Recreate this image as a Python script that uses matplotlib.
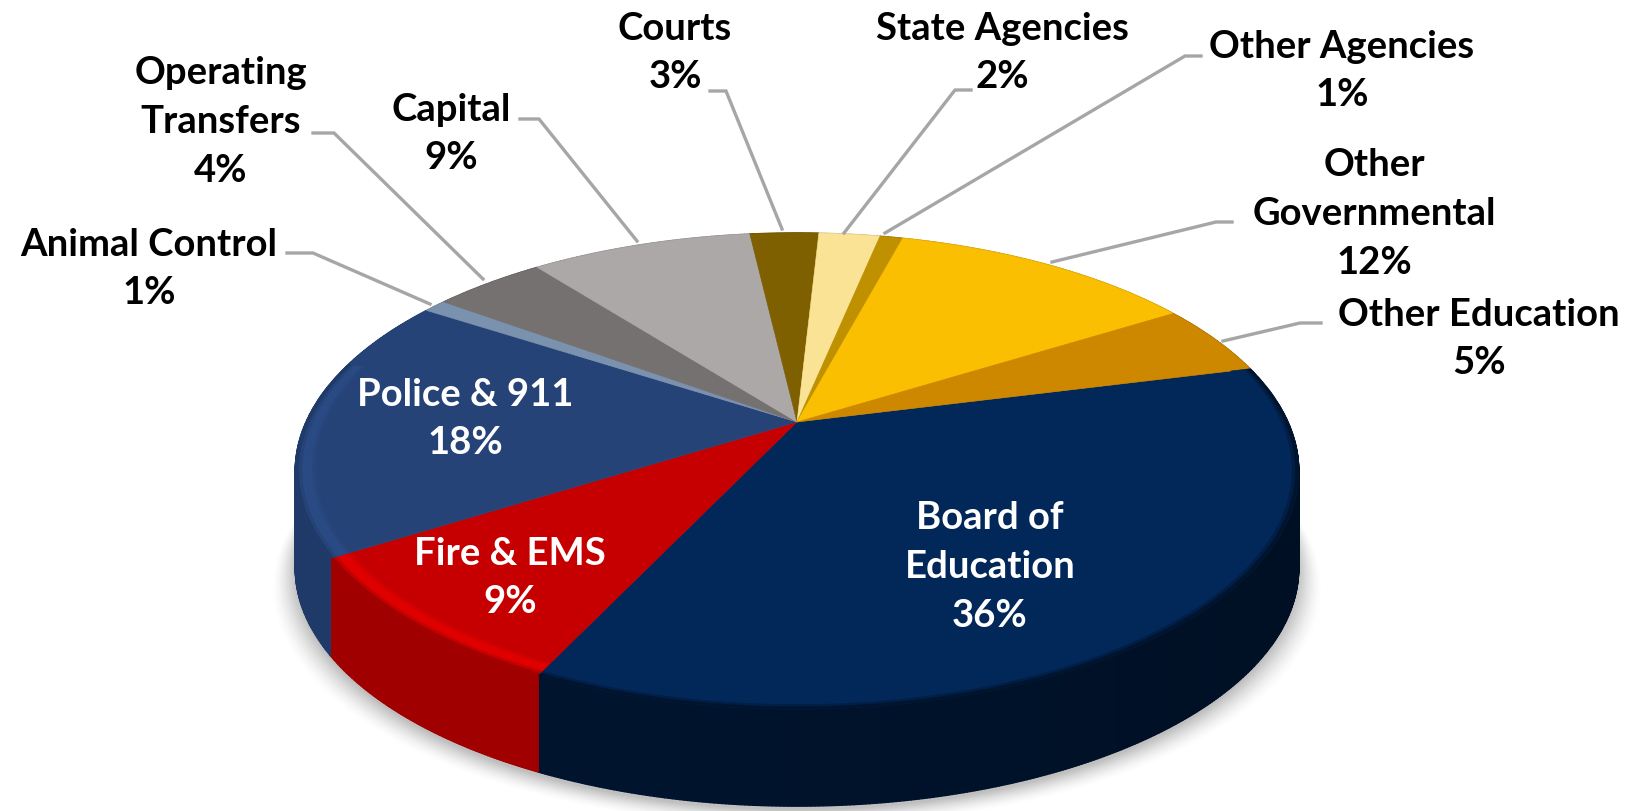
import numpy as np
import matplotlib
matplotlib.use("Agg")
import matplotlib.pyplot as plt
from matplotlib.colors import to_rgb

# slices, clockwise from the Board of Education edge
names = ["Board of\nEducation", "Fire & EMS", "Police & 911", "Animal Control", "Operating\nTransfers",
         "Capital", "Courts", "State Agencies", "Other Agencies", "Other\nGovernmental", "Other Education"]
# shares, the labels show them rounded
values = [36, 9, 18.1, 0.9, 4.4, 8.7, 2.7, 2.4, 0.9, 12, 4.9]
colors = ["#012859", "#c60000", "#254377", "#7b92ae", "#757170", "#aba8a7",
          "#7f6000", "#fbe396", "#bf9000", "#fabf00", "#cd8800"]
side_colors = ["#00142e", "#a00000", "#1f3a68", "#5f7590", "#5a5655", "#8a8786",
               "#5f4800", "#c8b070", "#8f6c00", "#c09000", "#a06a00"]
rim_colors = {0: "#012859", 1: "#e00000", 2: "#294a83"}

# label centre (reference px), text colour
label_pos = [(990, 567), (510, 578), (465, 419), (149, 269), (221, 122),
             (451, 134), (675, 53), (1002, 53), (1342, 71), (1374, 214), (1479, 339)]
label_col = ["white", "white", "white"] + ["black"] * 8

# leader lines in reference px, None for the labels sitting on the slice
leaders = [None, None, None,
           [(287, 254), (313, 254), (430, 305)],
           [(313, 134), (334, 134), (483, 280)],
           [(520, 120), (539, 120), (637, 242)],
           [(710, 92), (726, 92), (782, 230)],
           [(971, 91), (955, 91), (844, 234)],
           [(1201, 57), (1185, 57), (885, 234)],
           [(1232, 223), (1216, 223), (1052, 263)],
           [(1321, 324), (1300, 324), (1223, 342)]]

CX, CY = 797, 423   # apex of the slices
RX, RY = 491, 228
K = 0.206           # perspective
DEPTH = 97
START = 75.8


def project(t, r=1.0):
    # t in degrees clockwise from the far side of the disc
    a = np.radians(t)
    x = r * np.sin(a)
    y = r * np.cos(a)
    w = 1 + K * y
    return CX + RX * x / w, CY - RY * y / w


def mix(c1, c2, f):
    c1, c2 = np.array(to_rgb(c1)), np.array(to_rgb(c2))
    return tuple(np.clip(c1 + (c2 - c1) * f, 0, 1))


fig = plt.figure(figsize=(16.37, 8.12), dpi=100)
ax = fig.add_axes([0, 0, 1, 1])
ax.set_xlim(0, 1637)
ax.set_ylim(812, 0)
ax.axis("off")
plt.rcParams["font.family"] = ["Lato", "DejaVu Sans"]

angles = START + np.concatenate([[0], np.cumsum(values)]) * 3.6

# soft shadow below the disc
tt = np.linspace(0, 360, 361)
for grow, alpha in zip(np.linspace(22, 0, 14), np.linspace(0.008, 0.03, 14)):
    sx, sy = project(tt)
    ax.fill(CX + (sx - CX) * (1 + grow / 501), sy + DEPTH + 4 + grow * 0.7, color="black", alpha=alpha, lw=0, zorder=1)

# side wall
for i in range(len(values)):
    t = np.linspace(angles[i], angles[i + 1], max(3, int(values[i] * 10)))
    for j in range(len(t) - 1):
        # right end of the wall goes darker
        f = np.clip((t[j] - 70) / 130, 0, 1)
        col = mix(mix(side_colors[i], "black", 0.35), side_colors[i], f) if i == 0 else side_colors[i]
        tq = np.linspace(t[j], t[j + 1], 4)
        x, y = project(tq)
        ax.fill(np.r_[x, x[::-1]], np.r_[y, y[::-1] + DEPTH], color=col, lw=1, zorder=2)

# top of the disc
for i in range(len(values)):
    t = np.linspace(angles[i], angles[i + 1], max(4, int(values[i] * 5)))
    x, y = project(t)
    ax.fill(np.r_[CX, x], np.r_[CY, y], color=colors[i], lw=0.4, zorder=3)
    if i not in rim_colors:
        continue
    # bevel on the front rim only, police fades out going round the back
    t = t[t < 286]
    edges = np.linspace(0.955, 1.0, 8)
    for k in range(len(edges) - 1):
        f = k / (len(edges) - 2)
        if f < 0.35:
            col = mix(colors[i], rim_colors[i], f / 0.35)
        elif f < 0.7:
            col = rim_colors[i]
        else:
            col = mix(rim_colors[i], side_colors[i], (f - 0.7) / 0.3)
        x0, y0 = project(t, edges[k])
        x1, y1 = project(t, edges[k + 1])
        ax.fill(np.r_[x0, x1[::-1]], np.r_[y0, y1[::-1]], color=col, lw=0.4, zorder=4)

for i in range(len(values)):
    if leaders[i] is not None:
        pts = np.array(leaders[i])
        ax.plot(pts[:, 0], pts[:, 1], color="#a6a6a6", lw=2.4, solid_joinstyle="miter", zorder=5)
    ax.text(label_pos[i][0], label_pos[i][1], f"{names[i]}\n{values[i]:.0f}%", color=label_col[i],
            ha="center", va="center", ma="center", fontsize=27.5, fontweight="bold", linespacing=1.52, zorder=6)

fig.savefig("out.png", dpi=100, facecolor="white")
